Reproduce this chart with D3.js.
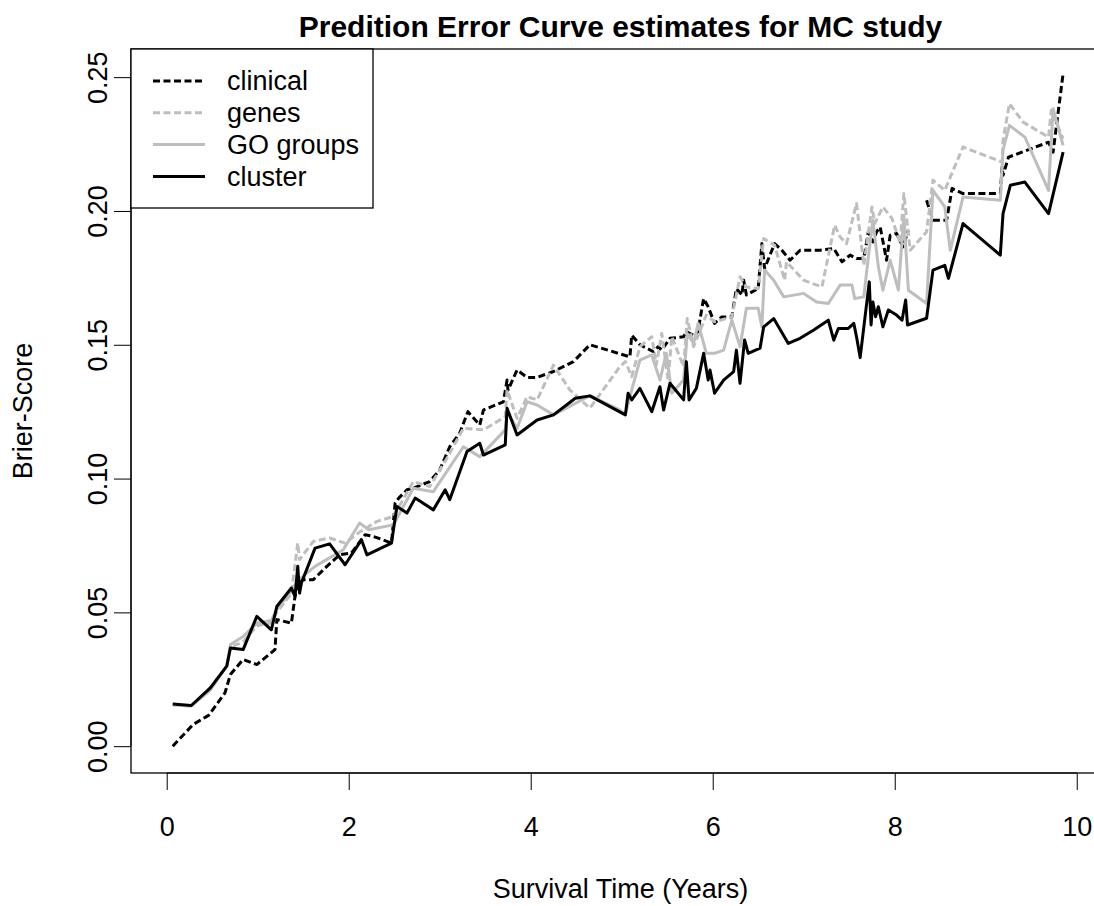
<html>
  <head>
    <meta charset="utf-8">
    <title>Predition Error Curve estimates</title>
    <style>
      body {
          margin: 0;
          background: #fff;
      }
      svg text {
          font-family: "Liberation Sans", Arial, sans-serif;
          fill: #000;
      }
      .title {
          font-weight: bold;
          font-size: 30px;
          text-anchor: middle;
      }
      .tick-label, .axis-title, .legend-label {
          font-size: 27px;
      }
    </style>
  </head>
  <body>
    <script src="https://cdn.jsdelivr.net/npm/d3@7"></script>
    <svg id="chart" width="1094" height="906"></svg>
    <script type="text/javascript">
// Brier scores, [time in years, score].
// null marks the hole in the clinical curve.
var clinical = [
  [0.066,0.000],[0.29,0.0081],[0.46,0.0115],[0.64,0.0199],[0.70,0.0268],[0.84,0.0324],
  [0.99,0.0305],[1.19,0.0361],[1.21,0.0473],[1.37,0.046],[1.41,0.056],[1.45,0.0622],
  [1.61,0.0622],[1.76,0.0672],[1.90,0.0715],[2.03,0.0722],[2.18,0.079],[2.27,0.0784],
  [2.47,0.0759],[2.51,0.0908],[2.55,0.0927],[2.64,0.0958],[2.71,0.0964],[2.89,0.0989],
  [3.00,0.1032],[3.11,0.1119],[3.22,0.117],[3.31,0.125],[3.44,0.12],[3.48,0.1256],
  [3.70,0.1287],[3.74,0.1368],[3.75,0.133],[3.85,0.1406],[3.96,0.1378],[4.07,0.1378],
  [4.25,0.14],[4.47,0.1437],[4.65,0.15],[5.09,0.1455],[5.11,0.1536],[5.20,0.15],
  [5.35,0.1474],[5.40,0.1493],[5.44,0.148],[5.53,0.1524],[5.68,0.153],[5.71,0.1549],
  [5.82,0.153],[5.84,0.1555],[5.90,0.1673],[5.95,0.1642],[6.02,0.158],[6.10,0.1604],
  [6.21,0.1604],[6.26,0.171],[6.32,0.1686],[6.34,0.1741],[6.37,0.1686],[6.50,0.171],
  [6.54,0.1878],[6.57,0.1785],[6.68,0.1878],[6.76,0.1853],[6.85,0.1816],[6.96,0.1853],
  [7.18,0.1853],[7.33,0.186],[7.42,0.181],[7.51,0.1835],[7.58,0.1822],[7.66,0.1822],
  [7.71,0.1922],[7.76,0.1884],[7.80,0.1922],[7.84,0.194],[7.91,0.1816],[7.95,0.1909],
  [8.02,0.1916],[8.09,0.1866],[8.15,0.1928],[8.25,null],[8.35,0.204],[8.42,0.1965],
  [8.57,0.1965],[8.63,0.2084],[8.75,0.2065],[9.16,0.2065],[9.18,0.2164],[9.19,0.2133],
  [9.25,0.2201],[9.69,0.2257],[9.74,0.222],[9.85,0.2513]
];

var genes = [
  [0.066,0.0155],[0.27,0.015],[0.48,0.022],[0.66,0.030],[0.70,0.037],[0.84,0.039],
  [0.99,0.045],[1.15,0.046],[1.21,0.050],[1.37,0.057],[1.44,0.0759],[1.46,0.0697],
  [1.61,0.0765],[1.79,0.0778],[1.96,0.0759],[2.12,0.080],[2.31,0.084],[2.49,0.0858],
  [2.71,0.0989],[2.89,0.097],[3.08,0.1076],[3.26,0.1188],[3.48,0.1182],[3.72,0.1231],
  [3.74,0.1331],[3.85,0.1225],[3.96,0.1306],[4.07,0.1294],[4.25,0.1424],[4.43,0.1331],
  [4.65,0.1263],[4.98,0.1418],[5.04,0.1437],[5.11,0.1381],[5.20,0.1493],[5.33,0.153],
  [5.38,0.1424],[5.44,0.1542],[5.51,0.1368],[5.55,0.153],[5.68,0.1418],[5.72,0.1598],
  [5.79,0.1493],[5.82,0.1518],[5.93,0.1611],[6.02,0.1586],[6.21,0.1604],[6.30,0.1754],
  [6.37,0.1716],[6.50,0.171],[6.56,0.1897],[6.68,0.1872],[6.79,0.1741],[6.81,0.181],
  [7.00,0.1741],[7.20,0.1716],[7.34,0.1947],[7.40,0.1903],[7.47,0.1878],[7.58,0.2028],
  [7.66,0.1797],[7.75,0.2015],[7.78,0.1953],[7.87,0.2015],[7.97,0.1972],[8.06,0.1878],
  [8.10,0.2065],[8.17,0.1853],[8.35,0.1922],[8.42,0.2115],[8.55,0.2077],[8.75,0.2239],
  [9.18,0.2183],[9.19,0.2264],[9.26,0.2401],[9.41,0.2332],[9.69,0.2276],[9.72,0.2376],
  [9.85,0.227]
];

var goGroups = [
  [0.066,0.0155],[0.27,0.015],[0.48,0.021],[0.66,0.030],[0.70,0.038],[0.84,0.041],
  [0.99,0.046],[1.15,0.047],[1.21,0.051],[1.37,0.058],[1.44,0.062],[1.48,0.063],
  [1.63,0.0672],[1.94,0.0734],[2.12,0.0834],[2.22,0.0809],[2.49,0.0827],[2.71,0.0964],
  [2.93,0.0951],[3.26,0.1119],[3.44,0.1082],[3.72,0.1182],[3.74,0.125],[3.85,0.1188],
  [3.96,0.1287],[4.07,0.1275],[4.25,0.1238],[4.65,0.131],[4.98,0.1256],[5.04,0.124],
  [5.11,0.1331],[5.20,0.1443],[5.33,0.1462],[5.42,0.1368],[5.49,0.1468],[5.55,0.1319],
  [5.68,0.1368],[5.72,0.1542],[5.79,0.1505],[5.84,0.158],[5.93,0.1468],[6.02,0.1468],
  [6.12,0.148],[6.21,0.1592],[6.30,0.1493],[6.37,0.1636],[6.50,0.1636],[6.54,0.1567],
  [6.57,0.1779],[6.67,0.1741],[6.78,0.1679],[7.00,0.1692],[7.14,0.166],[7.27,0.1654],
  [7.40,0.1723],[7.53,0.1723],[7.56,0.1673],[7.66,0.1679],[7.71,0.1828],[7.76,0.1965],
  [7.82,0.1791],[7.87,0.1704],[7.95,0.1816],[8.04,0.1704],[8.10,0.1984],[8.15,0.1704],
  [8.35,0.1654],[8.42,0.2077],[8.55,0.2015],[8.61,0.1853],[8.75,0.2052],[9.16,0.204],
  [9.19,0.2227],[9.26,0.232],[9.43,0.2276],[9.69,0.2077],[9.74,0.2382],[9.85,0.2245]
];

var cluster = [
  [0.066,0.0158],[0.27,0.0152],[0.48,0.0218],[0.66,0.0299],[0.70,0.0367],[0.84,0.0361],
  [0.99,0.0485],[1.15,0.0435],[1.21,0.0522],[1.37,0.0591],[1.41,0.056],[1.44,0.0672],
  [1.46,0.0572],[1.48,0.061],[1.63,0.074],[1.79,0.0756],[1.96,0.0678],[2.14,0.0771],
  [2.20,0.0715],[2.47,0.0759],[2.53,0.0896],[2.64,0.0871],[2.73,0.0927],[2.93,0.0883],
  [3.06,0.0958],[3.11,0.0921],[3.30,0.1101],[3.44,0.1132],[3.48,0.1088],[3.72,0.1126],
  [3.74,0.1263],[3.85,0.1163],[4.07,0.1219],[4.25,0.1238],[4.49,0.13],[4.65,0.1309],
  [5.04,0.1238],[5.07,0.1319],[5.11,0.1294],[5.20,0.1337],[5.33,0.125],[5.42,0.1343],
  [5.46,0.1256],[5.53,0.1356],[5.68,0.1294],[5.71,0.1437],[5.74,0.1294],[5.82,0.1337],
  [5.90,0.1468],[5.95,0.1368],[5.97,0.1406],[6.02,0.1319],[6.12,0.1368],[6.23,0.14],
  [6.26,0.148],[6.30,0.1356],[6.35,0.1518],[6.39,0.1468],[6.52,0.1487],[6.56,0.1567],
  [6.67,0.1598],[6.83,0.1505],[6.96,0.1524],[7.11,0.1555],[7.27,0.1592],[7.33,0.1517],
  [7.38,0.1561],[7.49,0.1561],[7.55,0.158],[7.58,0.153],[7.62,0.1452],[7.72,0.1735],
  [7.74,0.1574],[7.76,0.166],[7.79,0.1605],[7.82,0.1642],[7.87,0.1567],[7.93,0.163],
  [8.02,0.1611],[8.08,0.1592],[8.12,0.1667],[8.14,0.1574],[8.35,0.1599],[8.42,0.1779],
  [8.55,0.1797],[8.59,0.1748],[8.75,0.1953],[9.16,0.1835],[9.19,0.199],[9.27,0.2096],
  [9.43,0.2108],[9.69,0.199],[9.85,0.222]
];

var xTicks = [0, 2, 4, 6, 8, 10];
var yTicks = [0.00, 0.05, 0.10, 0.15, 0.20, 0.25];
var seriesNames = ["clinical", "genes", "GO groups", "cluster"];

// how each curve is drawn, in the same order as seriesNames
var styles = [
  { data: clinical, colour: "#000000", dash: "7,3.5" },
  { data: genes,    colour: "#bebebe", dash: "7,3.5" },
  { data: goGroups, colour: "#bebebe", dash: null },
  { data: cluster,  colour: "#000000", dash: null }
];

// plot box, like R's par("plt") with 4% padding on both scales.
// The right edge sits past the picture, the original was cut there.
var box = { left: 131, right: 1110, top: 49, bottom: 773 };

function padded(lo, hi) {
  var d = (hi - lo) * 0.04;
  return [lo - d, hi + d];
}

var x = d3.scaleLinear()
    .domain(padded(0.006, 9.967))
    .range([box.left, box.right]);
var y = d3.scaleLinear()
    .domain(padded(0, 0.2505))
    .range([box.bottom, box.top]);

var svg = d3.select("#chart");

svg.append("defs").append("clipPath")
    .attr("id", "plot-clip")
  .append("rect")
    .attr("x", box.left)
    .attr("y", box.top)
    .attr("width", box.right - box.left)
    .attr("height", box.bottom - box.top);

var line = d3.line()
    .defined(d => d[1] != null)
    .x(d => x(d[0]))
    .y(d => y(d[1]));

svg.append("g")
    .attr("clip-path", "url(#plot-clip)")
  .selectAll("path")
  .data(styles)
  .enter().append("path")
    .attr("d", s => line(s.data))
    .attr("fill", "none")
    .attr("stroke", s => s.colour)
    .attr("stroke-width", 3)
    .attr("stroke-linejoin", "round")
    .attr("stroke-dasharray", s => s.dash);

// axes, drawn the R way: ticks outwards, labels a line away
var xAxis = d3.axisBottom(x)
    .tickValues(xTicks)
    .tickSize(17)
    .tickFormat(d3.format("d"));
var gx = svg.append("g")
    .attr("transform", "translate(0," + box.bottom + ")")
    .call(xAxis);
gx.select(".domain").remove();
gx.append("line")
    .attr("x1", x(xTicks[0]))
    .attr("x2", x(xTicks[xTicks.length - 1]))
    .attr("stroke", "#000");
gx.selectAll(".tick line").attr("stroke", "#000");
gx.selectAll(".tick text")
    .attr("class", "tick-label")
    .attr("font-family", null)
    .attr("font-size", null)
    .attr("dy", null)
    .attr("y", 63);

var yAxis = d3.axisLeft(y)
    .tickValues(yTicks)
    .tickSize(17)
    .tickFormat(d3.format(".2f"));
var gy = svg.append("g")
    .attr("transform", "translate(" + box.left + ",0)")
    .call(yAxis);
gy.select(".domain").remove();
gy.append("line")
    .attr("y1", y(yTicks[0]))
    .attr("y2", y(yTicks[yTicks.length - 1]))
    .attr("stroke", "#000");
gy.selectAll(".tick line").attr("stroke", "#000");
gy.selectAll(".tick text")
    .attr("class", "tick-label")
    .attr("font-family", null)
    .attr("font-size", null)
    .attr("x", null)
    .attr("dy", null)
    .attr("text-anchor", "middle")
    .attr("transform", "translate(-24,0) rotate(-90)");

svg.append("rect")
    .attr("x", box.left)
    .attr("y", box.top)
    .attr("width", box.right - box.left)
    .attr("height", box.bottom - box.top)
    .attr("fill", "none")
    .attr("stroke", "#000")
    .attr("stroke-width", 1.3);

svg.append("text")
    .attr("class", "title")
    .attr("x", (box.left + box.right) / 2)
    .attr("y", 37)
    .text("Predition Error Curve estimates for MC study");

svg.append("text")
    .attr("class", "axis-title")
    .attr("text-anchor", "middle")
    .attr("x", (box.left + box.right) / 2)
    .attr("y", 898)
    .text("Survival Time (Years)");

svg.append("text")
    .attr("class", "axis-title")
    .attr("text-anchor", "middle")
    .attr("transform", "translate(32," + (box.top + box.bottom) / 2 + ") rotate(-90)")
    .text("Brier-Score");

// legend in the top left corner
var legendBox = { w: 242, h: 159, rowH: 31.8, firstRow: 32 };
var legend = svg.append("g")
    .attr("transform", "translate(" + box.left + "," + box.top + ")");
legend.append("rect")
    .attr("width", legendBox.w)
    .attr("height", legendBox.h)
    .attr("fill", "#fff")
    .attr("stroke", "#000")
    .attr("stroke-width", 1.3);
var rows = legend.selectAll(".row")
    .data(seriesNames)
  .enter().append("g")
    .attr("class", "row")
    .attr("transform", (d, i) => "translate(0," + (legendBox.firstRow + i * legendBox.rowH) + ")");
rows.append("line")
    .attr("x1", 22)
    .attr("x2", 74)
    .attr("stroke", (d, i) => styles[i].colour)
    .attr("stroke-width", 3)
    .attr("stroke-dasharray", (d, i) => styles[i].dash);
rows.append("text")
    .attr("class", "legend-label")
    .attr("x", 96)
    .attr("dy", "0.35em")
    .text(d => d);
    </script>
  </body>
</html>
